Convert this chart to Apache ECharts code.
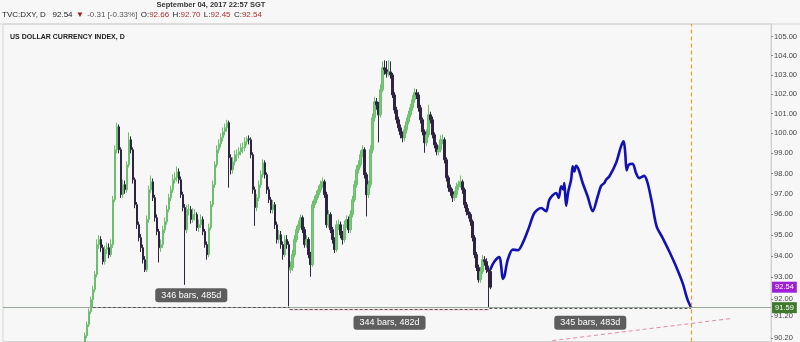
<!DOCTYPE html>
<html><head><meta charset="utf-8">
<script src="https://cdn.jsdelivr.net/npm/echarts@6/dist/echarts.min.js"></script>
<style>html,body{margin:0;padding:0;background:#f7f7f7}#c{width:800px;height:342px}</style>
</head><body><div id="c"></div>
<script>
// ---- data ----
const firstOpen = 90.00;
const closes = [90.31,90.81,91.41,91.96,92.43,93.13,94.55,94.79,94.40,93.74,94.31,94.40,94.07,94.55,96.71,99.18,100.33,99.18,96.96,97.45,
97.20,98.43,99.68,99.18,97.69,96.47,95.50,94.88,94.40,93.83,93.36,95.75,97.20,97.59,96.81,95.84,95.17,94.40,94.55,95.26,
95.65,96.23,96.81,97.20,97.69,97.79,98.08,97.69,96.96,96.33,95.26,96.23,96.23,95.75,95.99,95.99,95.36,95.50,95.75,95.17,
94.55,94.07,95.36,96.47,97.45,98.43,99.18,99.48,99.78,100.08,100.28,100.54,98.78,98.18,98.58,98.93,98.93,99.08,99.28,99.28,
99.58,99.73,99.68,98.93,97.20,96.33,96.81,97.45,97.94,98.53,97.94,97.20,96.71,96.23,96.47,95.50,94.79,95.02,94.55,94.07,
94.79,94.55,93.36,93.46,94.07,94.79,95.26,95.50,95.84,95.26,94.55,94.79,94.07,93.60,96.47,96.71,96.96,97.20,97.45,97.59,
96.96,95.50,95.99,95.26,94.79,94.31,95.50,95.50,95.02,94.79,95.50,95.75,95.26,95.99,96.71,97.45,98.18,98.43,98.93,99.18,
97.94,96.96,97.45,99.18,100.79,101.61,101.45,100.94,102.22,103.36,103.26,103.05,103.15,102.99,101.96,101.19,100.69,100.28,99.93,99.78,
100.18,100.59,100.94,101.30,101.71,102.07,101.96,101.30,100.69,100.08,99.53,99.93,100.94,100.69,99.93,99.43,99.08,99.18,99.68,99.68,
98.68,97.79,97.30,97.10,96.81,96.96,97.35,97.45,97.59,97.20,96.47,96.13,95.99,95.65,94.88,94.07,93.46,92.89,93.27,93.83,
93.74,93.36,93.27,92.54];
const highs = [90.45,90.95,91.55,92.10,92.60,93.30,94.80,95.00,94.95,94.55,94.50,94.65,94.60,94.80,96.90,99.40,100.54,100.45,99.30,97.70,
97.65,98.60,100.05,99.85,99.30,97.80,96.60,95.65,95.05,94.55,94.00,95.95,97.40,97.90,97.75,96.95,96.00,95.30,94.80,95.45,
95.85,96.45,97.00,97.40,97.95,98.05,98.35,98.25,97.85,97.10,96.50,96.45,96.50,96.40,96.30,96.25,96.10,95.75,96.00,95.90,
95.30,94.70,95.55,96.65,97.65,98.60,99.40,99.70,100.00,100.30,100.50,100.69,100.65,98.95,98.80,99.15,99.20,99.30,99.50,99.55,
99.80,99.85,99.90,99.80,99.05,97.35,97.00,97.65,98.15,98.70,98.65,98.05,97.35,96.85,96.70,96.60,95.65,95.25,95.20,94.70,
95.00,95.00,94.70,93.75,94.30,95.00,95.45,95.70,96.00,95.95,95.40,95.00,94.90,94.20,96.65,96.90,97.15,97.40,97.65,97.80,
97.70,97.10,96.20,96.10,95.40,94.90,95.70,95.75,95.65,95.20,95.70,95.95,95.90,96.20,96.90,97.65,98.40,98.65,99.15,99.40,
99.30,98.05,97.65,99.40,101.00,101.86,101.80,101.60,102.50,103.70,103.75,103.72,103.75,103.70,103.10,102.10,101.35,100.85,100.45,100.10,
100.40,100.80,101.15,101.50,101.95,102.30,102.25,102.10,101.45,100.80,100.20,100.20,101.45,101.10,100.85,100.05,99.55,99.40,99.90,99.95,
99.80,98.80,97.90,97.45,97.25,97.15,97.55,97.65,97.90,97.70,97.30,96.60,96.30,96.10,95.75,95.00,94.20,93.60,93.50,94.05,
94.00,93.90,93.55,93.40];
const lows = [89.80,90.20,90.70,91.30,91.59,92.30,93.00,94.35,94.20,93.60,93.60,94.10,93.90,93.95,94.40,96.60,99.00,99.00,96.80,96.80,
97.00,97.05,98.30,99.00,97.50,96.30,95.30,94.70,94.20,93.65,93.25,93.25,95.60,97.05,96.65,95.65,95.00,93.70,94.20,94.40,
95.10,95.50,96.10,96.65,97.05,97.50,97.60,97.50,96.80,96.15,92.65,95.10,95.95,95.55,95.60,95.70,95.20,95.15,95.35,95.00,
94.40,93.83,93.95,95.25,96.35,97.30,98.30,99.00,99.30,99.60,99.90,100.10,97.30,97.95,98.00,98.40,98.60,98.75,98.90,99.00,
99.10,99.40,99.45,98.75,97.00,95.45,96.15,96.65,97.30,97.80,97.75,97.00,96.55,96.05,96.05,95.30,94.60,94.60,94.35,93.83,
93.95,94.35,91.65,93.20,93.30,93.95,94.65,95.10,95.35,95.10,94.40,94.40,93.90,93.03,93.50,96.30,96.55,96.80,97.05,97.30,
96.80,95.35,95.35,95.10,94.60,94.15,94.20,95.25,94.85,94.55,94.65,95.35,95.10,95.10,95.85,96.60,97.30,98.00,98.30,98.80,
97.75,95.90,96.80,97.30,99.00,100.60,101.20,99.55,100.80,102.10,103.00,102.85,102.90,102.80,101.80,101.00,100.50,100.10,99.75,99.55,
99.60,100.00,100.45,100.80,101.15,101.55,101.75,101.10,100.50,99.90,99.03,99.35,99.80,100.50,99.75,99.25,98.90,98.90,99.05,99.45,
98.50,97.60,97.10,96.90,96.60,96.65,96.80,97.20,97.30,97.00,96.30,95.95,95.80,95.45,94.70,93.90,93.30,92.75,92.75,93.15,
93.55,93.20,91.62,92.45];
// projected path (bar offsets, price)
const projX = [202.9,205,207.5,208.4,209.2,210,211.7,214.2,216.7,219.2,222.5,225,228.4,230.9,232.5,235.9,237.2,238.4,239.5,240,
240.9,242,243.4,244.2,245,245.9,247.2,249.2,251.7,254.2,256.7,258.4,260,260.9,262.5,265.9,268.4,269.7,270.5,271.2,
272.2,274.2,275.9,277.5,280,281.7,283.9,286.2,289.2,292.5,295.9,299.2,301.7,303.5];
const projY = [93.36,93.75,93.96,93.52,92.93,93.05,93.83,94.31,94.28,94.63,95.42,96.07,96.31,96.15,96.71,97.04,96.80,97.37,97.21,97.53,
96.42,97.12,97.69,98.35,98.10,98.38,98.18,97.53,96.87,96.15,96.87,97.39,97.53,97.69,97.85,98.52,99.35,99.60,99.01,98.15,
98.43,98.48,98.02,97.77,97.88,97.53,96.55,95.42,94.87,94.23,93.52,92.74,91.96,91.59];
const yTicks = [90.2,91.2,92,93,94,95,96,97,98,99,100,101,102,103,104,105];
const lastPrice = 92.54;
const levelPrice = 91.59;
const measureLabels = ['346 bars, 485d','344 bars, 482d','345 bars, 483d'];
const measureFrom = [4, 102.5, 202.5];
const measureTo = [102.5, 202.5, 303.5];
const measurePrice = [91.62, 91.535, 91.58];
const measureLabelPrice = [92.17, 90.90, 90.90];
const cursorBar = 303.75;
const headerDate = 'September 04, 2017 22:57 SGT';
const chartTitle = 'US DOLLAR CURRENCY INDEX, D';

// ---- build ----
const candles = closes.map((c, i) => [i, i === 0 ? firstOpen : closes[i - 1], c, lows[i], highs[i]]);
const proj = projX.map((x, i) => [x, projY[i]]);
const FONT = 'Liberation Sans, Arial, sans-serif';

const measureLines = measureLabels.map((t, i) => [
  {coord: [measureFrom[i], measurePrice[i]], lineStyle: {color: '#555', type: [3, 2], width: 1}, label: {show: false}},
  {coord: [measureTo[i], measurePrice[i]]}
]);

const chart = echarts.init(document.getElementById('c'), null, {renderer: 'canvas'});
chart.setOption({
  animation: false,
  backgroundColor: '#f7f7f7',
  grid: {left: 3, right: 28, top: 24, bottom: 0, show: true, borderColor: '#d4d4d4', borderWidth: 1, backgroundColor: 'transparent'},
  xAxis: {type: 'value', min: -41, max: 343.5, show: false},
  yAxis: {
    type: 'log', logBase: 10, min: 90.04, max: 105.67, position: 'right',
    axisLine: {show: true, onZero: false, lineStyle: {color: '#cfcfcf'}},
    axisTick: {show: true, length: 2, lineStyle: {color: '#888'}, customValues: yTicks},
    splitLine: {show: false},
    axisLabel: {customValues: yTicks, formatter: v => Number(v).toFixed(2), fontSize: 7.5, color: '#444', margin: 3, fontFamily: FONT}
  },
  graphic: [
    {type: 'line', shape: {x1: 0, y1: 24, x2: 800, y2: 24}, style: {stroke: '#d4d4d4', lineWidth: 1}},
    {type: 'text', x: 211, y: 5, style: {text: headerDate, fill: '#333', font: 'bold 7.5px ' + FONT, textAlign: 'center', textVerticalAlign: 'middle'}},
    {type: 'text', x: 2, y: 15, style: {
      text: '{k|TVC:DXY, D}  {k|92.54} {r|▼} {g|-0.31 [-0.33%]} {k|O:}{v|92.66} {k|H:}{v|92.70} {k|L:}{v|92.45} {k|C:}{v|92.54}',
      textVerticalAlign: 'middle',
      rich: {
        k: {fill: '#222', font: '8px ' + FONT},
        g: {fill: '#555', font: '8px ' + FONT},
        r: {fill: '#a01818', font: '8px ' + FONT},
        v: {fill: '#b0302c', font: '8px ' + FONT}
      }
    }},
    {type: 'text', x: 10, y: 37, style: {text: chartTitle, fill: '#222', font: 'bold 7px ' + FONT, textVerticalAlign: 'middle'}}
  ],
  series: [
    {
      type: 'candlestick', name: 'DXY', data: candles, encode: {x: 0, y: [1, 2, 3, 4]},
      barWidth: 1.8,
      itemStyle: {color: '#78c878', color0: '#2e2342', borderColor: '#6cbf6c', borderColor0: '#2e2342', borderWidth: 1},
      markArea: {silent: true, itemStyle: {color: 'rgba(240,190,205,0.6)'}, data: [[{coord: [102.5, 91.535]}, {coord: [202.5, 91.45]}]]},
      markLine: {
        silent: true, symbol: ['none', 'none'], animation: false,
        data: [
          {yAxis: levelPrice, lineStyle: {color: '#9aa89a', type: 'solid', width: 1},
           label: {show: true, position: 'end', formatter: levelPrice.toFixed(2), color: '#fff', backgroundColor: '#3f7a2c', padding: [2, 3, 1, 3], fontSize: 7.5, fontFamily: FONT, distance: 1}},
          {yAxis: lastPrice, lineStyle: {color: 'rgba(0,0,0,0)', width: 0},
           label: {show: true, position: 'end', formatter: lastPrice.toFixed(2), color: '#fff', backgroundColor: '#9d1fd8', padding: [2, 3, 1, 3], fontSize: 7.5, fontFamily: FONT, distance: 1}},
          {xAxis: cursorBar, lineStyle: {color: '#f0a020', type: [4, 3], width: 1.2, opacity: 1}, label: {show: false}},
          [{coord: [234, 90.08], lineStyle: {color: '#e58aa2', type: [4, 3], width: 1}, label: {show: false}}, {coord: [323.5, 91.09]}]
        ].concat(measureLines)
      },
      markPoint: {
        silent: true, symbol: 'circle', symbolSize: 0,
        label: {show: true, position: 'inside', formatter: p => p.name, color: '#fff', backgroundColor: 'rgba(80,80,80,0.92)', padding: [3, 6, 2, 6], borderRadius: 3, fontSize: 9, fontFamily: FONT},
        data: measureLabels.map((t, i) => ({name: t, coord: [(measureFrom[i] + measureTo[i]) / 2, measureLabelPrice[i]]}))
      }
    },
    {
      type: 'line', name: 'projection', data: proj, showSymbol: false, smooth: 0.3,
      lineStyle: {color: '#1212b4', width: 2.6}
    }
  ]
});
</script></body></html>
